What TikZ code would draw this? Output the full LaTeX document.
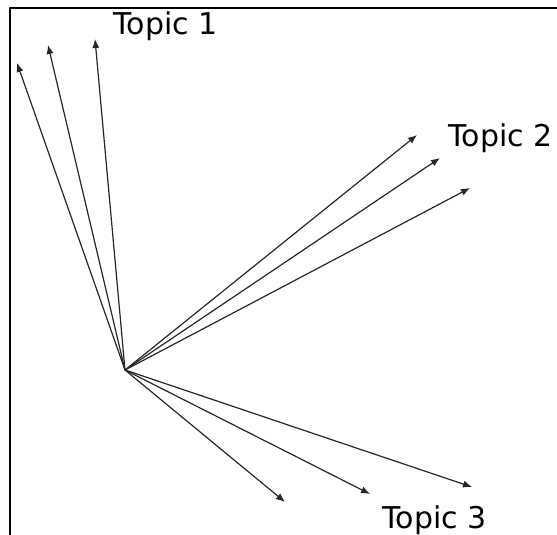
\documentclass[tikz,border=0pt]{standalone}
\usepackage{fontspec}
\setmainfont{DejaVu Sans}
\usetikzlibrary{arrows.meta}
\begin{document}
\begin{tikzpicture}[x=0.5pt,y=-0.5pt,line join=round,>={Latex[length=4.5pt,width=3.6pt]},
	vec/.style={->,line width=0.6pt,black!85},
	topic/.style={anchor=base west,inner sep=0pt,font=\fontsize{15}{18}\selectfont}]
	\useasboundingbox (0,0) rectangle (557,535);
	\clip (0,0) rectangle (557,535);
	
	\draw[line width=1.35pt] (10,545) -- (10,8) -- (570,8);
	
	\coordinate (O) at (125,370);
	
	\coordinate (A1) at (17,63);
	\coordinate (A2) at (48,45);
	\coordinate (A3) at (95,39);
	
	\coordinate (B1) at (417,135);
	\coordinate (B2) at (440,158);
	\coordinate (B3) at (470,188);
	
	\coordinate (C1) at (285,502);
	\coordinate (C2) at (370,494);
	\coordinate (C3) at (472,487);
	
	\foreach \t in {A1,A2,A3,B1,B2,B3,C1,C2,C3}
		\draw[vec] (O) -- (\t);
	
	\node[topic] (T1) at (113,35) {Topic 1};
	\node[topic] (T2) at (448,147) {Topic 2};
	\node[topic] (T3) at (382,528) {Topic 3};
\end{tikzpicture}
\end{document}
